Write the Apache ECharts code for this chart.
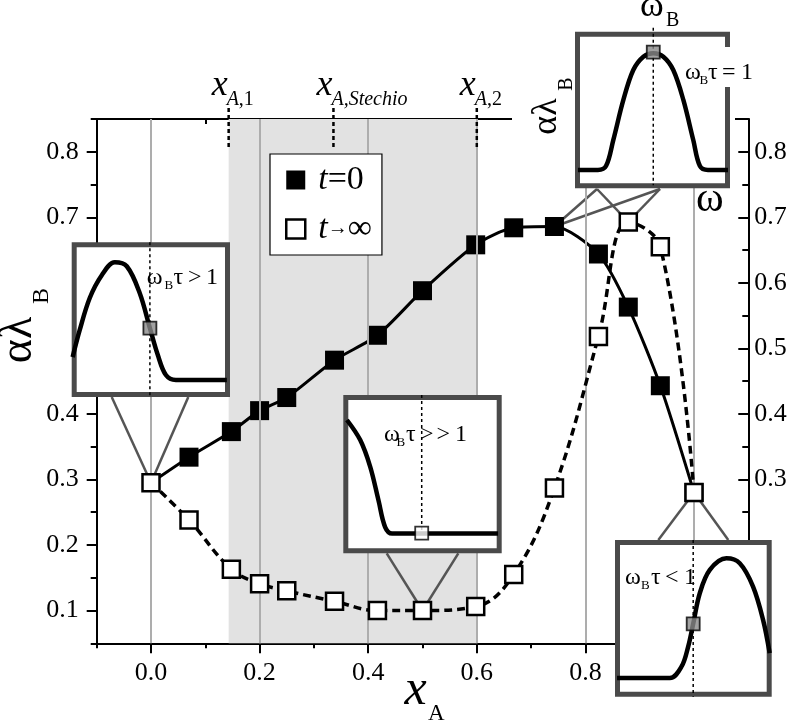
<!DOCTYPE html>
<html><head><meta charset="utf-8">
<script src="https://cdn.jsdelivr.net/npm/echarts@6/dist/echarts.min.js"></script>
<style>html,body{margin:0;padding:0;background:#fff}#c{width:793px;height:721px}</style>
</head><body><div id="c"></div>
<script>
// ---------------- data ----------------
const xA   = [0, 0.07, 0.148, 0.2, 0.25, 0.338, 0.417, 0.5, 0.598, 0.668, 0.743, 0.824, 0.879, 0.938, 1.0];
const yT0  = [0.295, 0.334, 0.373, 0.405, 0.425, 0.482, 0.520, 0.588, 0.658, 0.684, 0.686, 0.644, 0.563, 0.443, 0.280];
const yInf = [0.295, 0.238, 0.163, 0.141, 0.130, 0.114, 0.100, 0.100, 0.106, 0.155, 0.287, 0.518, 0.693, 0.655, 0.280];
const seriesNames = ['t=0', 't→∞'];

const shadeRange   = [0.143, 0.6];
const gridLinesX   = [0, 0.2, 0.4, 0.6, 0.8, 1.0];
const xMarkValues  = [0.143, 0.336, 0.6];
const xMarkSubs    = ['{i|A}{n|,1}', '{i|A,Stechio}', '{i|A}{n|,2}'];

const xTickLabels  = [0, 0.2, 0.4, 0.6, 0.8];
const xMajorTicks  = [0, 0.2, 0.4, 0.6, 0.8, 1.0];
const yMajorTicks  = [0.1, 0.2, 0.3, 0.4, 0.5, 0.6, 0.7, 0.8];
const yLabelsLeft  = [0.1, 0.2, 0.3, 0.4, 0.7, 0.8];
const yLabelsRight = [0.3, 0.4, 0.5, 0.6, 0.7, 0.8];

// schematic inset curves (normalised 0..1 inset coordinates)
const inset1Curve = [[0.006,0.258],[0.05,0.43],[0.114,0.64],[0.19,0.787],[0.272,0.871],[0.348,0.845],[0.43,0.671],[0.494,0.445],[0.544,0.271],[0.595,0.142],[0.658,0.11],[0.98,0.11]];
const inset2Curve = [[0.023,0.842],[0.107,0.715],[0.17,0.546],[0.222,0.335],[0.264,0.166],[0.308,0.125],[0.484,0.125],[0.977,0.125]];
const inset3Curve = [[0.019,0.117],[0.148,0.117],[0.2,0.142],[0.247,0.308],[0.312,0.564],[0.376,0.755],[0.441,0.84],[0.505,0.862],[0.57,0.84],[0.634,0.755],[0.699,0.564],[0.763,0.308],[0.806,0.142],[0.858,0.117],[0.987,0.117]];
const inset4Curve = [[0.013,0.119],[0.35,0.119],[0.425,0.193],[0.467,0.32],[0.499,0.465],[0.541,0.66],[0.605,0.809],[0.711,0.883],[0.796,0.852],[0.881,0.703],[0.945,0.49],[0.987,0.278]];
const insetCurves = [inset1Curve, inset2Curve, inset3Curve, inset4Curve];
const insetMarks  = [[0.494,0.445],[0.495,0.127],[0.505,0.87],[0.499,0.465]];
const insetDotted = [[1,0],[1,0.13],[1.025,0.02],[1,0]];
const insetMarkFill = ['#8a8a8a', '#ffffff', '#8a8a8a', '#8a8a8a'];

// which data point each inset points to: [series, index, inset]
const connectorTargets = [['inf',0,0],['inf',7,1],['t0',10,2],['inf',12,2],['inf',14,3]];

// ---------------- layout ----------------
const FONT = "'Liberation Serif', serif";
const X_MIN = -0.1, X_MAX = 1.1, X_STEP = 0.1;
const Y_MIN = 0.05, Y_MAX = 0.85, Y_STEP = 0.05;
const insetBoxes = [[71.7,242.3,230,397],[343.3,395,501.7,553.3],[575,31.7,730,188.3],[615,540,771.7,696.7]];
const connectorBases = [[[111.7,397],[188.3,397]],[[386.7,553.3],[458.3,553.3]],[[597,189],[660,189]],[[658.3,540],[728.3,540]]];

const BLACK = '#000';
const tickStyle = {color: BLACK, width: 2};

function xAxisDef(pos, major, inside) {
  return {
    gridIndex: 0, type: 'value', position: pos, min: X_MIN, max: X_MAX, interval: X_STEP,
    axisLine: {show: !major, onZero: false, lineStyle: {color: BLACK, width: 2}},
    axisTick: major ? {show: true, inside: inside, customValues: xMajorTicks, length: 10, lineStyle: tickStyle}
                    : {show: true, inside: inside, length: 5, lineStyle: tickStyle},
    axisLabel: (pos === 'bottom' && !major) ? {customValues: xTickLabels, formatter: v => v.toFixed(1), color: BLACK, fontFamily: FONT, fontSize: 26, margin: 17} : {show: false},
    splitLine: {show: false}
  };
}
function yAxisDef(pos, major, inside, labels) {
  return {
    gridIndex: 0, type: 'value', position: pos, min: Y_MIN, max: Y_MAX, interval: Y_STEP,
    axisLine: {show: !major, onZero: false, lineStyle: {color: BLACK, width: 2}},
    axisTick: major ? {show: true, inside: inside, customValues: yMajorTicks, length: 10, lineStyle: tickStyle}
                    : {show: true, inside: inside, length: 6, lineStyle: tickStyle},
    axisLabel: labels ? {customValues: labels, formatter: v => v.toFixed(1), color: BLACK, fontFamily: FONT, fontSize: 26, margin: pos === 'left' ? 18 : 6} : {show: false},
    splitLine: {show: false}
  };
}

const grids = [{left: 96.7, top: 119, width: 651.6, height: 524.3}];
insetBoxes.forEach(b => grids.push({left: b[0], top: b[1], width: b[2]-b[0], height: b[3]-b[1]}));

const xAxes = [xAxisDef('bottom', false, false), xAxisDef('bottom', true, false), xAxisDef('top', false, true), xAxisDef('top', true, true)];
const yAxes = [yAxisDef('left', false, false, yLabelsLeft), yAxisDef('left', true, false, null), yAxisDef('right', false, true, yLabelsRight), yAxisDef('right', true, true, null)];
insetBoxes.forEach((b, k) => {
  xAxes.push({gridIndex: k+1, type: 'value', min: 0, max: 1, show: false});
  yAxes.push({gridIndex: k+1, type: 'value', min: 0, max: 1, show: false});
});

const t0Data  = xA.map((x, i) => i === 0 ? {value: [x, yT0[i]], symbol: 'none'} : [x, yT0[i]]);
const infData = xA.map((x, i) => [x, yInf[i]]);
const seriesData = {t0: yT0, inf: yInf};

const series = [
  {type: 'line', name: '_shade', data: [], z: 0, silent: true,
   markArea: {silent: true, itemStyle: {color: '#e2e2e2'}, data: [[{xAxis: shadeRange[0]}, {xAxis: shadeRange[1]}]]}},
  {type: 'line', name: '_grid', data: [], z: 1, silent: true,
   markLine: {silent: true, symbol: 'none', label: {show: false}, animation: false,
     lineStyle: {color: '#adadad', width: 2, type: 'solid'}, data: gridLinesX.map(v => ({xAxis: v}))}},
  {type: 'custom', name: '_marks', coordinateSystem: 'cartesian2d', z: 6, clip: false, silent: true,
   data: xMarkValues.map((v, i) => [v, i]),
   renderItem: (params, api) => {
     const p = api.coord([api.value(0), Y_MAX]);
     const i = params.dataIndex;
     return {type: 'group', children: [
       {type: 'line', shape: {x1: p[0], y1: p[1]-11, x2: p[0], y2: p[1]+31}, style: {stroke: BLACK, lineWidth: 2.5, lineDash: [4, 3]}},
       {type: 'text', style: {text: 'x', x: p[0]-1, y: p[1]-33.6, align: 'right', verticalAlign: 'middle', font: 'italic 36px ' + FONT, fill: BLACK}},
       {type: 'text', style: {text: xMarkSubs[i], x: p[0]-2, y: p[1]-19.5, align: 'left', verticalAlign: 'middle', fill: BLACK,
         rich: {i: {fontStyle: 'italic', fontSize: 20, fontFamily: FONT, fill: BLACK}, n: {fontSize: 20, fontFamily: FONT, fill: BLACK}}}}
     ]};
   }},
  {type: 'custom', name: '_conn', coordinateSystem: 'cartesian2d', z: 3, clip: false, silent: true,
   data: connectorTargets.map(t => [xA[t[1]], seriesData[t[0]][t[1]], t[2]]),
   renderItem: (params, api) => {
     const p = api.coord([api.value(0), api.value(1)]);
     const b = connectorBases[api.value(2)];
     return {type: 'group', children: b.map(q => ({type: 'line', shape: {x1: q[0], y1: q[1], x2: p[0], y2: p[1]}, style: {stroke: '#555', lineWidth: 2.5}}))};
   }},
  {type: 'line', name: seriesNames[0], data: t0Data, z: 4, smooth: 0.25, symbol: 'rect', symbolSize: 19,
   itemStyle: {color: BLACK}, lineStyle: {color: BLACK, width: 3}, animation: false},
  {type: 'line', name: seriesNames[1], data: infData, z: 5, smooth: 0.4, symbol: 'rect', symbolSize: 17,
   itemStyle: {color: '#fff', borderColor: BLACK, borderWidth: 2.5}, lineStyle: {color: BLACK, width: 3.5, type: [8, 5]}, animation: false}
];

insetCurves.forEach((c, k) => {
  const ax = k + 4;
  series.push({type: 'line', xAxisIndex: ax, yAxisIndex: ax, data: c, smooth: 0.35, symbol: 'none', clip: false, z: 12, silent: true,
    lineStyle: {color: BLACK, width: 4.5}, animation: false});
  const m = insetMarks[k];
  series.push({type: 'line', xAxisIndex: ax, yAxisIndex: ax, data: [[m[0], insetDotted[k][0]], [m[0], insetDotted[k][1]]], symbol: 'none', clip: false, z: 12, silent: true,
    lineStyle: {color: BLACK, width: 1.5, type: [3, 3]}, animation: false});
  series.push({type: 'scatter', xAxisIndex: ax, yAxisIndex: ax, data: [m], symbol: 'rect', symbolSize: 13, clip: false, z: 13, silent: true,
    itemStyle: {color: insetMarkFill[k], borderColor: BLACK, borderWidth: 1.8}, animation: false});
});

// ---------------- graphic (frames & texts) ----------------
function T(text, x, baseline, size, opt) {
  opt = opt || {};
  return {type: 'text', z: 14, x: x, y: baseline - 0.34 * size,
    style: {text: text, font: (opt.italic ? 'italic ' : '') + size + 'px ' + FONT, fill: BLACK, align: opt.align || 'left', verticalAlign: 'middle'}};
}
function TR(text, cx, cy, size) { // rotated (reads upwards), given centre
  return {type: 'text', z: 14, x: cx, y: cy, rotation: Math.PI / 2,
    style: {text: text, font: size + 'px ' + FONT, fill: BLACK, align: 'center', verticalAlign: 'middle'}};
}
function omegaLabel(pieces, baseline) { // pieces: [[text,left],...], 2nd piece is subscript B
  return pieces.map((p, i) => i === 1 ? T(p[0], p[1], baseline + 3.5, 13) : T(p[0], p[1], baseline, 24));
}

const gfx = [
  {type: 'rect', z: 8, shape: {x: 512, y: 98, width: 223, height: 36}, style: {fill: '#fff'}}
];
insetBoxes.forEach(b => gfx.push({type: 'rect', z: 10, shape: {x: b[0]+2.5, y: b[1]+2.5, width: b[2]-b[0]-5, height: b[3]-b[1]-5},
  style: {fill: '#fff', stroke: '#4a4a4a', lineWidth: 5}}));
gfx.push({type: 'rect', z: 11, shape: {x: 725, y: 47, width: 9, height: 40}, style: {fill: '#fff'}});

gfx.push(...omegaLabel([['ω',146.7],['B',164.5],['τ',173.5],['>',188],['1',206]], 286));
gfx.push(...omegaLabel([['ω',384],['B',396.5],['τ',406],['>',420],['>',436.5],['1',455]], 443));
gfx.push(...omegaLabel([['ω',685],['B',699.5],['τ',708],['=',722],['1',741]], 81));
gfx.push(...omegaLabel([['ω',625],['B',641],['τ',651],['<',665],['1',684]], 586));

// inset-3 axis labels
gfx.push(T('ω', 640, 19, 36), T('B', 666, 28, 20), T('ω', 696, 214, 42));
gfx.push(TR('αλ', 546.4, 116.5, 36), TR('B', 566.5, 84, 20));
// main axis titles
gfx.push(TR('αλ', 19, 340, 46), TR('B', 42, 296, 24));
gfx.push(T('x', 415.5, 708, 50, {italic: true, align: 'center'}), T('A', 428, 722, 23));

const option = {
  animation: false,
  backgroundColor: '#fff',
  grid: grids,
  xAxis: xAxes,
  yAxis: yAxes,
  legend: {
    orient: 'vertical', left: 270, top: 154, z: 20,
    backgroundColor: '#fff', borderColor: BLACK, borderWidth: 1.2, padding: [8, 10, 8, 15],
    itemWidth: 19, itemHeight: 19, itemGap: 13, icon: 'rect',
    data: [{name: seriesNames[0], itemStyle: {color: BLACK}},
           {name: seriesNames[1], itemStyle: {color: '#fff', borderColor: BLACK, borderWidth: 2.5}}],
    formatter: n => n === seriesNames[0] ? '{sp|}{i|t}{n|=0}' : '{sp|}{i|t}{a|→}{n|∞}',
    textStyle: {fontFamily: FONT, fontSize: 34, color: BLACK, lineHeight: 36,
      rich: {sp: {width: 8}, i: {fontStyle: 'italic', fontFamily: FONT, fontSize: 34, color: BLACK},
             a: {fontFamily: FONT, fontSize: 20, fontWeight: 'bold', color: BLACK},
             n: {fontFamily: FONT, fontSize: 34, color: BLACK}}}
  },
  graphic: {elements: gfx},
  series: series
};
const chart = echarts.init(document.getElementById('c'));
chart.setOption(option);
</script></body></html>
